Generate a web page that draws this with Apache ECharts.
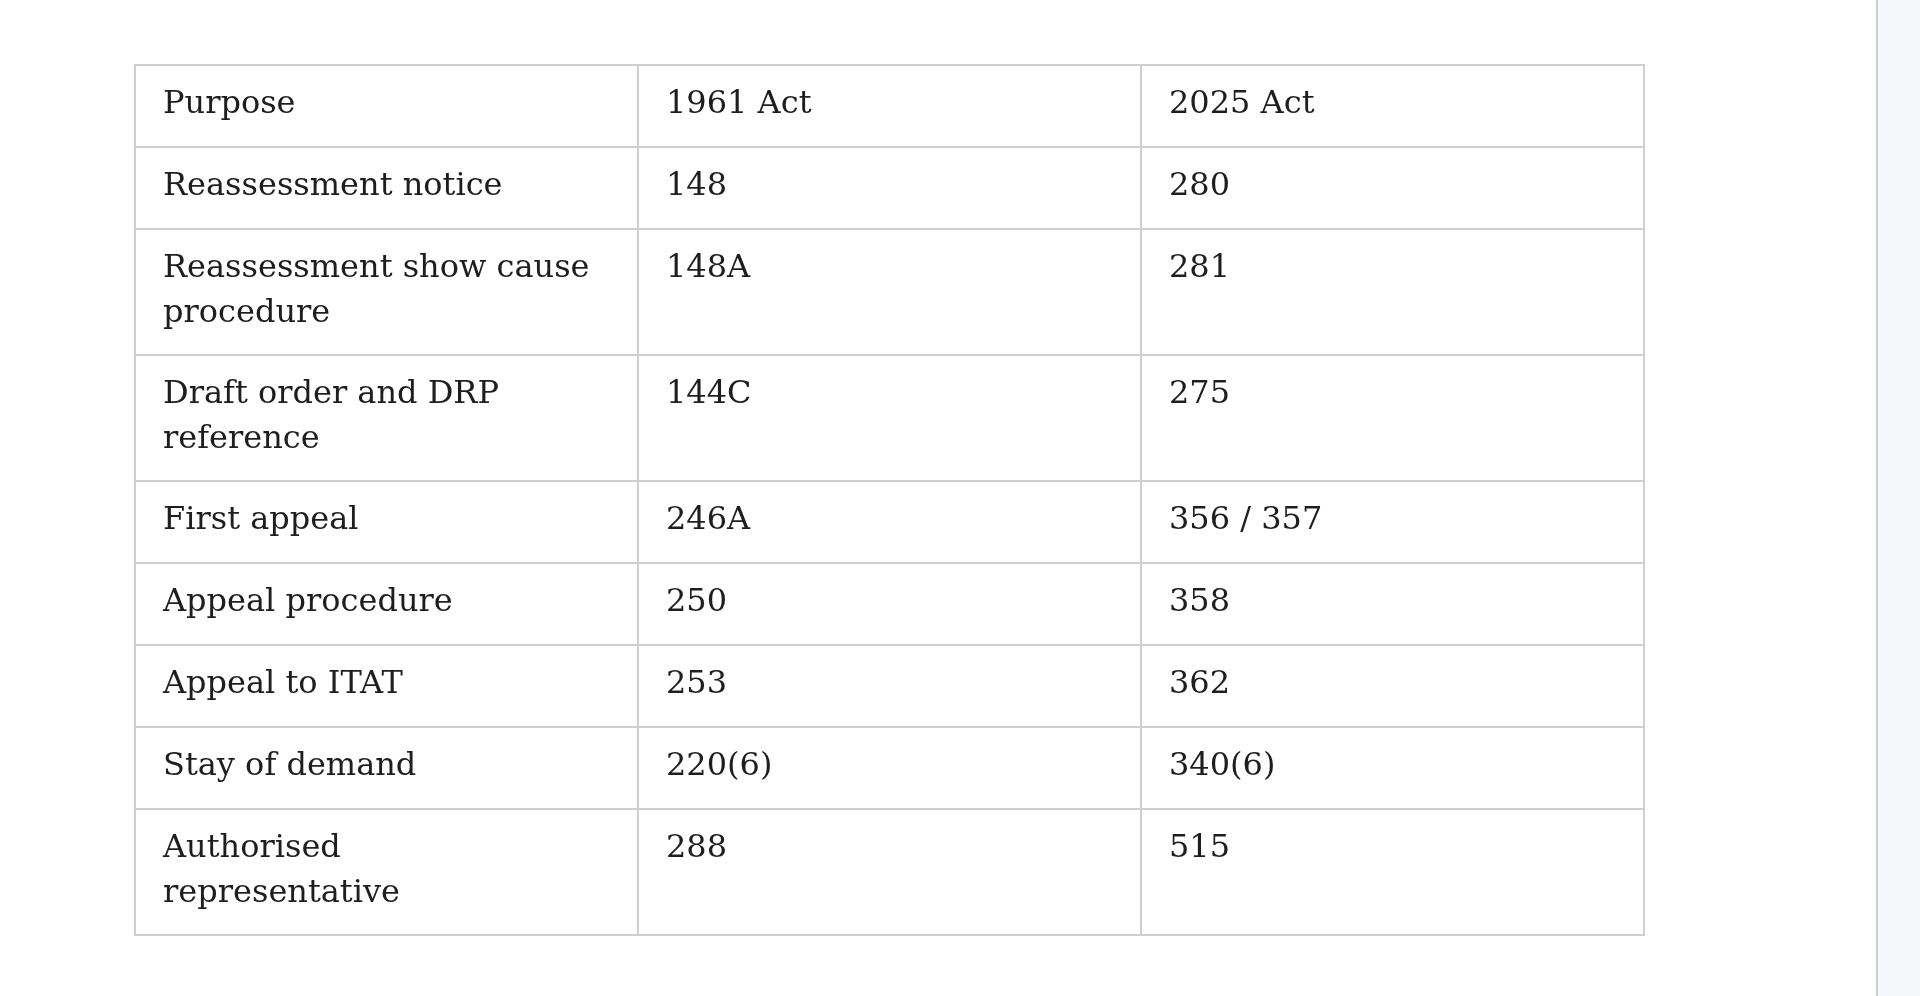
<!DOCTYPE html>
<html>
<head>
<meta charset="utf-8">
<script src="https://cdn.jsdelivr.net/npm/echarts@6/dist/echarts.min.js"></script>
<style>
  html, body, #main { width: 100%; height: 100%; margin: 0; background: #fff; }
</style>
</head>
<body>
<div id="main"></div>
<script>
var headers = ['Purpose', '1961 Act', '2025 Act'];
var purposes = ['Reassessment notice', 'Reassessment show cause\nprocedure', 'Draft order and DRP\nreference',
    'First appeal', 'Appeal procedure', 'Appeal to ITAT', 'Stay of demand', 'Authorised\nrepresentative'];
var act1961 = ['148', '148A', '144C', '246A', '250', '253', '220(6)', '288'];
var act2025 = ['280', '281', '275', '356 / 357', '358', '362', '340(6)', '515'];

var chart = echarts.init(document.getElementById('main'));

var rows = [headers];
for (var i = 0; i < purposes.length; i++) {
    rows.push([purposes[i], act1961[i], act2025[i]]);
}

var left = 135, top0 = 65, colW = 503;
var elements = [];
var y = top0;
rows.forEach(function (r) {
    var lines = r[0].split('\n').length;
    var h = lines === 1 ? 82 : 126;
    r.forEach(function (txt, c) {
        elements.push({
            type: 'rect',
            shape: { x: left + c * colW, y: y, width: colW, height: h },
            style: { fill: '#fff', stroke: '#cfcfcf', lineWidth: 2 }
        });
        elements.push({
            type: 'text',
            x: left + c * colW + 28,
            y: y + 17,
            style: {
                text: txt, fill: '#1e1e1e', font: '32px "DejaVu Serif"',
                lineHeight: 45, verticalAlign: 'top'
            }
        });
    });
    y += h;
});
// right sidebar edge
elements.push({ type: 'rect', shape: { x: 1878, y: 0, width: 42, height: 996 }, style: { fill: '#f5f8fb' } });
elements.push({ type: 'line', shape: { x1: 1877, y1: 0, x2: 1877, y2: 996 }, style: { stroke: '#d0d0d0', lineWidth: 2 } });

chart.setOption({ graphic: { elements: elements } });
window.onresize = function () { chart.resize(); };
</script>
</body>
</html>
